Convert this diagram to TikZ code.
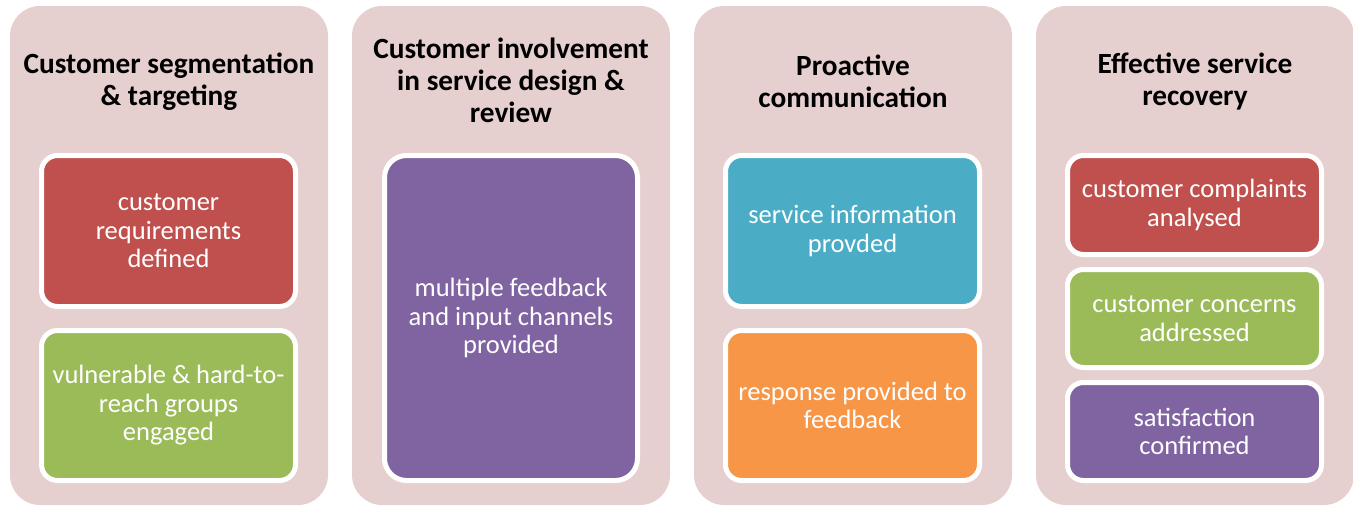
\documentclass[tikz,border=0pt]{standalone}
\usepackage{fontspec}
\setmainfont{Carlito}
\usetikzlibrary{positioning}

\definecolor{panelpink}{HTML}{E6CFCF}
\definecolor{boxred}{HTML}{C0504D}
\definecolor{boxgreen}{HTML}{9BBB59}
\definecolor{boxpurple}{HTML}{8064A2}
\definecolor{boxcyan}{HTML}{4BACC6}
\definecolor{boxorange}{HTML}{F79646}

\tikzset{
  column/.style={fill=panelpink, rounded corners=30pt, minimum width=318pt,
                 minimum height=499pt, inner sep=0pt},
  heading/.style={align=center, font=\fontsize{29.3}{32}\selectfont\bfseries},
  item/.style={draw=white, line width=5pt, rounded corners=16pt, text=white,
               align=center, inner sep=0pt, minimum width=254pt,
               font=\fontsize{26.5}{28.5}\selectfont}
}

\begin{document}
\begin{tikzpicture}[x=1pt,y=-1pt]
\useasboundingbox (0,0) rectangle (1353,506);
% pink backgrounds
\node[column] (segcol) at (169,255.5) {};
\node[column] (invcol) at (511,255.5) {};
\node[column] (comcol) at (853,255.5) {};
\node[column] (reccol) at (1195,255.5) {};
% headings
\node[heading] (seghead) at (169,81.5) {Customer segmentation\\ \& targeting};
\node[heading] (invhead) at (511,80.5) {Customer involvement\\ in service design \&\\ review};
\node[heading] (comhead) at (853,81.5) {Proactive\\ communication};
\node[heading] (rechead) at (1195,81.5) {Effective service\\ recovery};
% segmentation
\node[item, fill=boxred, minimum height=151pt] (req) at (168.5,231) {customer\\ requirements\\ defined};
\node[item, fill=boxgreen, minimum height=150pt] (vul) at (168.5,405.5) {vulnerable \& hard-to-\\ reach groups\\ engaged};
% involvement
\node[item, fill=boxpurple, minimum width=253pt, minimum height=325pt, rounded corners=22pt] (fbk) at (511,318) {multiple feedback\\ and input channels\\ provided};
% communication
\node[item, fill=boxcyan, minimum height=151pt] (inf) at (852.5,231) {service information\\ provded};
\node[item, fill=boxorange, minimum height=150pt] (rsp) at (852.5,405.5) {response provided to\\ feedback};
% recovery
\node[item, fill=boxred, minimum height=99pt] (cmp) at (1194.5,205) {customer complaints\\ analysed};
\node[item, fill=boxgreen, minimum height=98pt] (cnc) at (1194.5,318.5) {customer concerns\\ addressed};
\node[item, fill=boxpurple, minimum height=98pt] (sat) at (1194.5,431.5) {satisfaction\\ confirmed};
\end{tikzpicture}
\end{document}
